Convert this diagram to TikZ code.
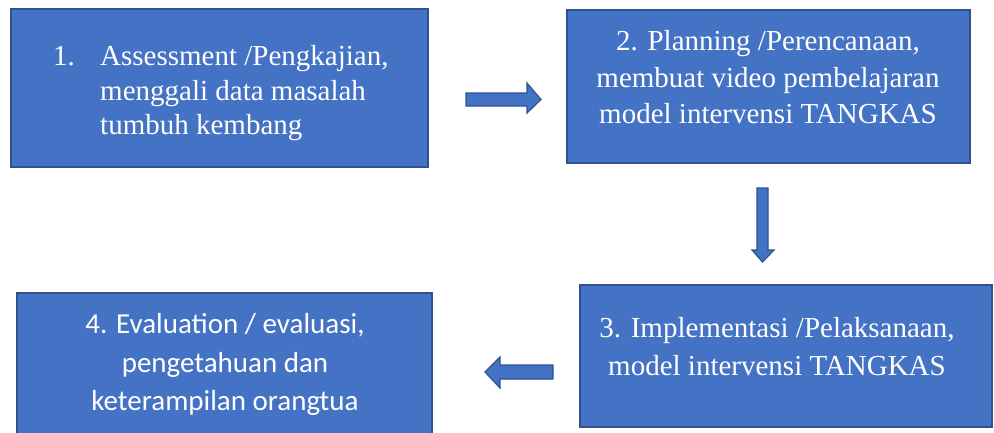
\documentclass[tikz,border=0pt]{standalone}
\usepackage{fontspec}
\setmainfont{Liberation Serif}
\newfontfamily\calib{Carlito}
\definecolor{boxfill}{HTML}{4472C4}
\definecolor{boxline}{HTML}{2F528F}
\begin{document}
\begin{tikzpicture}[x=1pt,y=-1pt,
  blockbox/.style={draw=boxline,fill=boxfill,line width=1.6pt},
  blockarrow/.style={draw=boxline,fill=boxfill,line width=1.2pt,line join=miter},
  txt/.style={text=white,inner sep=0pt,font=\fontsize{29}{34}\selectfont},
  ctxt/.style={text=white,inner sep=0pt,font=\calib\fontsize{29}{36}\selectfont}]
\clip (0,0) rectangle (994,432);
\fill[white] (0,0) rectangle (994,432);
% boxes
\draw[blockbox] (11,9) rectangle (428,167) coordinate (b1c);
\draw[blockbox] (567,10) rectangle (970,163);
\draw[blockbox] (580,285) rectangle (992,427);
\draw[blockbox] (17,293) rectangle (432,445);
% box 1 text
\node[txt,anchor=base west] (n1) at (53,65) {1.};
\node[txt,anchor=base west] (t1a) at (100,65) {Assessment /Pengkajian,};
\node[txt,anchor=base west] (t1b) at (100,100) {menggali data masalah};
\node[txt,anchor=base west] (t1c) at (100,134) {tumbuh kembang};
% box 2 text
\node[txt,anchor=base] (t2a) at (768,50) {2. Planning /Perencanaan,};
\node[txt,anchor=base] (t2b) at (768,87) {membuat video pembelajaran};
\node[txt,anchor=base] (t2c) at (768,123) {model intervensi TANGKAS};
% box 3 text
\node[txt,anchor=base] (t3a) at (777,337) {3. Implementasi /Pelaksanaan,};
\node[txt,anchor=base] (t3b) at (777,375) {model intervensi TANGKAS};
% box 4 text
\node[ctxt,anchor=base] (t4a) at (225,333) {4. Evaluation / evaluasi,};
\node[ctxt,anchor=base] (t4b) at (225,372) {pengetahuan dan};
\node[ctxt,anchor=base] (t4c) at (225,410) {keterampilan orangtua};
% block arrows
\draw[blockarrow] (466,93) -- (527,93) -- (527,83) -- (541,99.5) -- (527,113) -- (527,106) -- (466,106) -- cycle;
\draw[blockarrow] (757,188) -- (768,188) -- (768,250) -- (774,250) -- (762.5,262) -- (752,250) -- (757,250) -- cycle;
\draw[blockarrow] (553,365) -- (500,365) -- (500,357) -- (485,372) -- (500,388) -- (500,379) -- (553,379) -- cycle;
\end{tikzpicture}
\end{document}
